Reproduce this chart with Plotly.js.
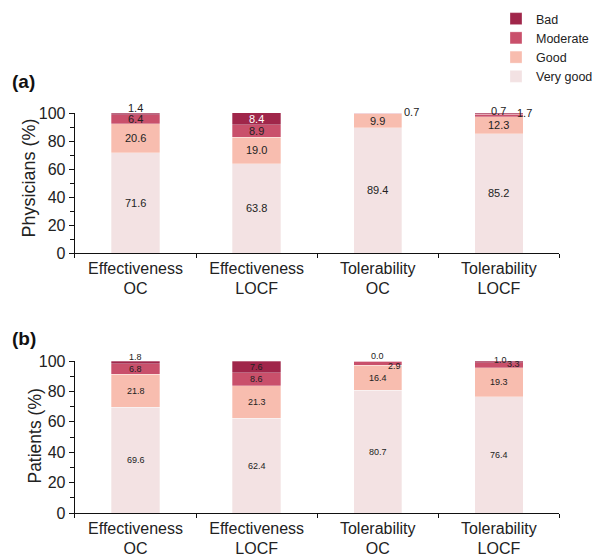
<!DOCTYPE html>
<html>
<head>
<meta charset="utf-8">
<script src="https://cdn.plot.ly/plotly-3.0.1.min.js"></script>
<style>html,body{margin:0;padding:0;background:#fff;}#chart{width:598px;height:556px;}</style>
</head>
<body>
<div id="chart"></div>
<script>
// ---- data ----
var categories = ['Effectiveness<br>OC', 'Effectiveness<br>LOCF', 'Tolerability<br>OC', 'Tolerability<br>LOCF'];
var levels = ['Very good', 'Good', 'Moderate', 'Bad'];

var physVeryGood = [71.6, 63.8, 89.4, 85.2];
var physGood     = [20.6, 19.0, 9.9, 12.3];
var physModerate = [6.4, 8.9, 0.7, 1.7];
var physBad      = [1.4, 8.4, null, 0.7];

var patVeryGood = [69.6, 62.4, 80.7, 76.4];
var patGood     = [21.8, 21.3, 16.4, 19.3];
var patModerate = [6.8, 8.6, 2.9, 3.3];
var patBad      = [1.8, 7.6, 0.0, 1.0];

// ---- styles ----
var colors = {'Very good': '#f3e2e3', 'Good': '#f8bdaf', 'Moderate': '#c9506b', 'Bad': '#a0264a'};
var FONT = 'Liberation Sans, Arial, Helvetica, sans-serif';

// label nudges for small segments (px)
var nudges = {
  'a|Bad|0': {yshift: 6},
  'a|Moderate|2': {xshift: 34, yshift: 1},
  'a|Bad|3': {yshift: 3},
  'a|Moderate|3': {xshift: 26, yshift: 2},
  'b|Bad|0': {yshift: 5},
  'b|Bad|2': {yshift: 5},
  'b|Moderate|2': {xshift: 17, yshift: -3},
  'b|Bad|3': {xshift: 2, yshift: 2},
  'b|Moderate|3': {xshift: 15, yshift: 1}
};
var whiteLabels = {'a|Bad|1': true};

var panels = [
  {key: 'a', xa: 'x', ya: 'y', series: [physVeryGood, physGood, physModerate, physBad], fs: 11},
  {key: 'b', xa: 'x2', ya: 'y2', series: [patVeryGood, patGood, patModerate, patBad], fs: 9}
];

var traces = [];
var annotations = [];
panels.forEach(function (p, pi) {
  var cum = categories.map(function () { return 0; });
  p.series.forEach(function (vals, li) {
    var lvl = levels[li];
    traces.push({
      type: 'bar', x: categories, y: vals.map(function (v) { return v === null ? 0 : v; }),
      xaxis: p.xa, yaxis: p.ya, name: lvl, legendgroup: lvl, showlegend: pi === 0,
      marker: {color: colors[lvl], line: {color: 'rgba(255,255,255,0.6)', width: 0.5}},
      width: 0.4, hoverinfo: 'x+y+name'
    });
    vals.forEach(function (v, ci) {
      if (v === null) return;
      var k = p.key + '|' + lvl + '|' + ci;
      var n = nudges[k] || {};
      annotations.push({
        x: categories[ci], y: cum[ci] + v / 2, xref: p.xa, yref: p.ya,
        text: v.toFixed(1), showarrow: false,
        xshift: n.xshift || 0, yshift: n.yshift || 0,
        font: {family: FONT, size: p.fs, color: whiteLabels[k] ? '#ffffff' : '#222222'}
      });
      cum[ci] += v;
    });
  });
});

// panel letters and axis titles
annotations.push({text: '<b>(a)</b>', xref: 'paper', yref: 'paper', x: 10 / 598, y: (556 - 82) / 556, xanchor: 'left', yanchor: 'middle', showarrow: false, font: {family: FONT, size: 19, color: '#111'}});
annotations.push({text: '<b>(b)</b>', xref: 'paper', yref: 'paper', x: 10 / 598, y: (556 - 338) / 556, xanchor: 'left', yanchor: 'middle', showarrow: false, font: {family: FONT, size: 19, color: '#111'}});
annotations.push({text: 'Physicians (%)', xref: 'paper', yref: 'paper', x: 29 / 598, y: (556 - 178) / 556, xanchor: 'center', yanchor: 'middle', textangle: -90, showarrow: false, font: {family: FONT, size: 18, color: '#222'}});
annotations.push({text: 'Patients (%)', xref: 'paper', yref: 'paper', x: 35 / 598, y: (556 - 436) / 556, xanchor: 'center', yanchor: 'middle', textangle: -90, showarrow: false, font: {family: FONT, size: 17.5, color: '#222'}});

function xAxis(anchor) {
  return {
    domain: [76 / 598, 567 / 598], anchor: anchor, type: 'category', automargin: false,
    showline: true, linecolor: '#111', linewidth: 1.3, ticks: 'outside', tickson: 'boundaries',
    ticklen: 4, tickcolor: '#111', tickfont: {family: FONT, size: 16, color: '#222'},
    showgrid: false, zeroline: false, fixedrange: true
  };
}
function yAxis(anchor, dom) {
  return {
    domain: dom, anchor: anchor, range: [0, 100], dtick: 20, tick0: 0, automargin: false,
    showline: true, linecolor: '#111', linewidth: 1.3, ticks: 'outside', ticklen: 5, tickcolor: '#111',
    minor: {dtick: 10, ticks: 'outside', ticklen: 4, tickcolor: '#111'},
    tickfont: {family: FONT, size: 16, color: '#222'},
    showgrid: false, zeroline: false, fixedrange: true
  };
}

var layout = {
  width: 598, height: 556,
  margin: {l: 0, r: 0, t: 0, b: 0},
  paper_bgcolor: '#fff', plot_bgcolor: '#fff',
  barmode: 'stack', bargap: 0.6,
  font: {family: FONT, color: '#222'},
  xaxis: xAxis('y'),
  yaxis: yAxis('x', [(556 - 253) / 556, (556 - 113) / 556]),
  xaxis2: xAxis('y2'),
  yaxis2: yAxis('x2', [(556 - 513) / 556, (556 - 361) / 556]),
  showlegend: true,
  legend: {x: 503 / 598, y: 1 - 4 / 556, xanchor: 'left', yanchor: 'top', traceorder: 'reversed',
           font: {family: FONT, size: 12.5, color: '#222'}, bgcolor: 'rgba(0,0,0,0)', itemclick: false},
  annotations: annotations
};

Plotly.newPlot('chart', traces, layout, {displayModeBar: false, staticPlot: true});
</script>
</body>
</html>
